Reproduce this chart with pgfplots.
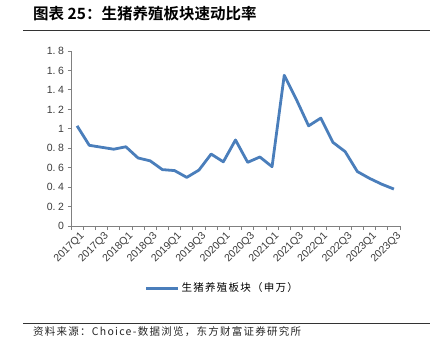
\documentclass[border=0pt]{standalone}
\usepackage{pgfplots}
\pgfplotsset{compat=1.18}
\usepackage{fontspec}
\setmainfont{Liberation Sans}
\newfontfamily\cjk{Noto Sans CJK SC}[LetterSpace=12]
\newfontfamily\cjkb{Noto Sans CJK SC}[BoldFont={* Bold}]
\definecolor{lineblue}{RGB}{74,126,187}
\definecolor{axgray}{RGB}{128,128,128}
\definecolor{txt}{RGB}{60,60,60}
\begin{document}
\begin{tikzpicture}[x=1pt,y=1pt]
\useasboundingbox (0,0) rectangle (435,354);
\node[anchor=west,inner sep=0] at (33,340) {\cjkb\bfseries\fontsize{15.5}{17}\selectfont 图表 25：生猪养殖板块速动比率};
\draw[line width=1pt,black!80] (23,323) -- (430,323);
\draw[line width=0.8pt,black!80] (23,31) -- (430,31);
\node[anchor=west,inner sep=0] at (33,22) {\cjk\fontsize{10.5}{12}\selectfont\color{black!85}资料来源：Choice-数据浏览，东方财富证券研究所};
\begin{axis}[
  at={(71pt,128pt)}, anchor=south west,
  scale only axis, width=329pt, height=175pt,
  xmin=-0.5, xmax=26.5, ymin=0, ymax=1.8,
  axis x line=bottom, axis y line=left,
  axis line style={-, axgray, line width=0.8pt},
  tick align=outside,
  xtick={0,2,...,26},
  xticklabels={2017Q1,2017Q3,2018Q1,2018Q3,2019Q1,2019Q3,2020Q1,2020Q3,2021Q1,2021Q3,2022Q1,2022Q3,2023Q1,2023Q3},
  major x tick style={draw=none},
  minor xtick={-0.5,0.5,...,26.5},
  minor tick length=4pt,
  minor x tick style={axgray, line width=0.8pt},
  ytick={0,0.2,...,1.8},
  major tick length=3.5pt,
  y tick style={axgray, line width=0.8pt},
  yticklabel style={/pgf/number format/fixed, /pgf/number format/precision=1,
    /pgf/number format/set decimal separator={.\hspace{2.5pt}}},
  /pgf/number format/assume math mode=true,
  tick label style={font=\fontsize{10.5}{12}\selectfont, text=txt},
  xticklabel style={rotate=45, anchor=north east, inner sep=0.5pt, yshift=-2pt, xshift=1pt},
  legend style={at={(0.46,-0.355)}, anchor=center, draw=none, font=\cjk\fontsize{10.5}{12}\selectfont, legend cell align=left},
  legend image code/.code={\draw[#1] (0pt,0pt) -- (32pt,0pt);},
  clip=false,
]
\addplot[lineblue, line width=2.8pt, line join=round] coordinates {
(0,1.03) (1,0.83) (2,0.81) (3,0.79) (4,0.815) (5,0.70) (6,0.67) (7,0.58) (8,0.57)
(9,0.50) (10,0.575) (11,0.74) (12,0.66) (13,0.885) (14,0.655) (15,0.71) (16,0.61)
(17,1.55) (18,1.30) (19,1.03) (20,1.11) (21,0.86) (22,0.765) (23,0.56) (24,0.49)
(25,0.43) (26,0.38)
};
\addlegendentry{生猪养殖板块（申万）}
\end{axis}
\end{tikzpicture}
\end{document}
